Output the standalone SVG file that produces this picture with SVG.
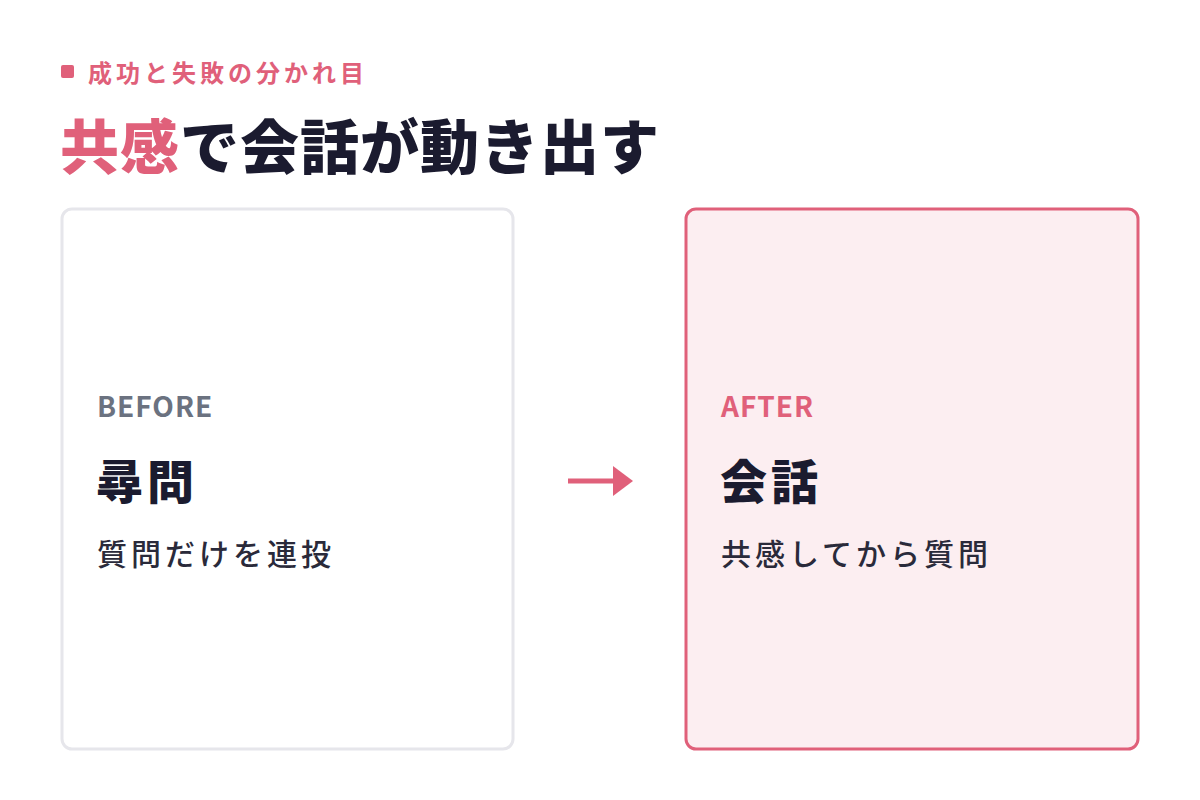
<svg xmlns="http://www.w3.org/2000/svg" width="1200" height="800" viewBox="0 0 1200 800">
<style>
text{font-family:"Noto Sans CJK JP","Noto Sans",sans-serif;}
.b{font-weight:900}
.pink{fill:#E0607A}
.dark{fill:#1B1B2F}
</style>
<rect width="1200" height="800" fill="#fff"/>
<g id="header">
<rect x="61" y="65" width="13" height="13" rx="2" class="pink"/>
<text x="88" y="82" font-size="24" letter-spacing="4" font-weight="700" class="pink">成功と失敗の分かれ目</text>
<text x="60" y="169" font-size="59" letter-spacing="1" class="b dark"><tspan class="pink">共感</tspan>で会話が動き出す</text>
</g>
<g id="before">
<rect x="62" y="209" width="451" height="540" rx="10" fill="#fff" stroke="#E6E6EB" stroke-width="3"/>
<text x="97" y="417" font-size="28" letter-spacing="1" font-weight="700" fill="#6B7280">BEFORE</text>
<text x="96" y="499" font-size="47" letter-spacing="4" class="b dark">尋問</text>
<text x="97" y="565" font-size="30" letter-spacing="4" fill="#2A2A3A" font-weight="500">質問だけを連投</text>
</g>
<g id="after">
<rect x="686" y="209" width="452" height="540" rx="10" fill="#FCEEF1" stroke="#E0607A" stroke-width="3"/>
<text x="721" y="417" font-size="28" letter-spacing="1" font-weight="700" class="pink">AFTER</text>
<text x="720" y="499" font-size="47" letter-spacing="4" class="b dark">会話</text>
<text x="721" y="565" font-size="30" letter-spacing="4" fill="#2A2A3A" font-weight="500">共感してから質問</text>
</g>
<g id="connectors">
<line x1="568" y1="481" x2="616" y2="481" stroke="#E0607A" stroke-width="5"/>
<polygon points="613,466 633,481 613,496" fill="#E0607A"/>
</g>
</svg>
